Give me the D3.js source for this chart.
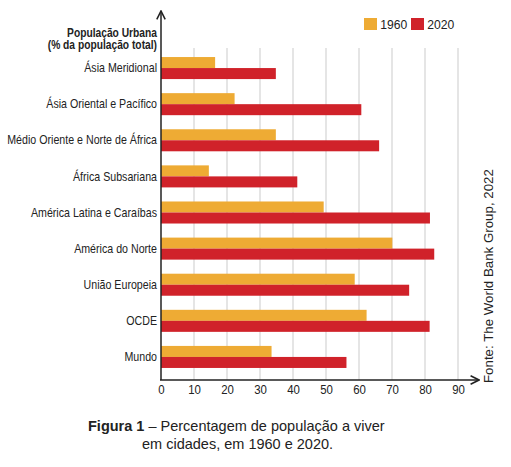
<!DOCTYPE html>
<html>
<head>
<meta charset="utf-8">
<script src="https://cdn.jsdelivr.net/npm/d3@7"></script>
<style>
  body { margin: 0; background: #fff; }
  svg text { font-family: 'Liberation Sans', Arial, sans-serif; fill: #222; }
</style>
</head>
<body>
<script>
const categories = ['Ásia Meridional', 'Ásia Oriental e Pacífico', 'Médio Oriente e Norte de África',
  'África Subsariana', 'América Latina e Caraíbas', 'América do Norte', 'União Europeia', 'OCDE', 'Mundo'];
const years = ['1960', '2020'];
const values1960 = [16.4, 22.3, 34.8, 14.5, 49.3, 70.1, 58.7, 62.3, 33.5];
const values2020 = [34.8, 60.7, 66.1, 41.3, 81.5, 82.8, 75.2, 81.4, 56.2];
const xTicks = [0, 10, 20, 30, 40, 50, 60, 70, 80, 90];

const colors = { '1960': '#eeab34', '2020': '#d0222a' };
// the original uses a condensed face; squeeze regular text horizontally
const narrow = 0.82;

const svg = d3.select('body')
  .append('svg')
  .attr('width', 511)
  .attr('height', 467);

const xScale = d3.scaleLinear()
  .domain([0, 90])
  .range([161, 458]);

const yScale = d3.scaleBand()
  .domain(categories)
  .range([50, 375])
  .paddingInner(0.39)
  .paddingOuter(0.195);

const yInner = d3.scaleBand()
  .domain(years)
  .range([0, yScale.bandwidth()]);

// gridlines
svg.append('g')
  .selectAll('line')
  .data(xTicks.slice(1))
  .enter()
  .append('line')
  .attr('x1', d => xScale(d))
  .attr('x2', d => xScale(d))
  .attr('y1', 48)
  .attr('y2', 380)
  .attr('stroke', '#d4d4d4')
  .attr('stroke-width', 1.2);

const rows = categories.map((c, i) => ({ cat: c, v: { '1960': values1960[i], '2020': values2020[i] } }));

const groups = svg.append('g')
  .selectAll('g')
  .data(rows)
  .enter()
  .append('g')
  .attr('transform', d => `translate(0,${yScale(d.cat)})`);

groups.selectAll('rect')
  .data(d => years.map(y => ({ year: y, value: d.v[y] })))
  .enter()
  .append('rect')
  .attr('x', xScale(0))
  .attr('y', d => yInner(d.year))
  .attr('width', d => xScale(d.value) - xScale(0))
  .attr('height', yInner.bandwidth())
  .attr('fill', d => colors[d.year]);

// x axis
const xAxis = svg.append('g')
  .attr('transform', 'translate(0,380)')
  .call(d3.axisBottom(xScale).tickValues(xTicks).tickSize(0).tickPadding(5));
xAxis.select('.domain').remove();
xAxis.selectAll('text')
  .style('font-size', '13px')
  .style('font-family', "'Liberation Sans', Arial, sans-serif")
  .attr('transform', `scale(${narrow + 0.06},1)`)
  .attr('fill', '#333');

// y axis labels
const yAxis = svg.append('g')
  .attr('transform', 'translate(161,0)')
  .call(d3.axisLeft(yScale).tickSize(0).tickPadding(4));
yAxis.select('.domain').remove();
yAxis.selectAll('text')
  .style('font-size', '13px')
  .style('font-family', "'Liberation Sans', Arial, sans-serif")
  .attr('x', -4 / narrow)
  .attr('transform', `scale(${narrow},1)`)
  .attr('fill', '#222');

// axis lines with arrows
svg.append('defs').append('marker')
  .attr('id', 'arrow')
  .attr('viewBox', '0 0 10 10')
  .attr('refX', 9)
  .attr('refY', 5)
  .attr('markerWidth', 7)
  .attr('markerHeight', 7)
  .attr('orient', 'auto')
  .append('path')
  .attr('d', 'M1,1 L9,5 L1,9')
  .attr('fill', 'none')
  .attr('stroke', '#222')
  .attr('stroke-width', 1.5);

svg.append('line')
  .attr('x1', 161).attr('y1', 380)
  .attr('x2', 161).attr('y2', 11)
  .attr('stroke', '#222').attr('stroke-width', 1.5)
  .attr('marker-end', 'url(#arrow)');

svg.append('line')
  .attr('x1', 160).attr('y1', 380)
  .attr('x2', 479).attr('y2', 380)
  .attr('stroke', '#222').attr('stroke-width', 1.5)
  .attr('marker-end', 'url(#arrow)');

// axis title
const titleLines = ['População Urbana', '(% da população total)'];
svg.append('g')
  .attr('transform', `translate(157,0) scale(${narrow},1)`)
  .selectAll('text')
  .data(titleLines)
  .enter()
  .append('text')
  .attr('x', 0)
  .attr('y', (d, i) => 37 + i * 12.5)
  .attr('text-anchor', 'end')
  .style('font-size', '12.5px')
  .style('font-weight', 'bold')
  .attr('fill', '#111')
  .text(d => d);

// legend
const legend = svg.append('g')
  .selectAll('g')
  .data(years)
  .enter()
  .append('g')
  .attr('transform', (d, i) => `translate(${364 + i * 47},18)`);
legend.append('rect')
  .attr('width', 13)
  .attr('height', 12)
  .attr('fill', d => colors[d]);
legend.append('text')
  .attr('x', 16)
  .attr('y', 11)
  .attr('transform', `scale(0.9,1)`)
  .attr('dx', 2)
  .style('font-size', '13.5px')
  .text(d => d);

// source
svg.append('text')
  .attr('transform', 'translate(493,383) rotate(-90)')
  .style('font-size', '13.3px')
  .attr('fill', '#333')
  .text('Fonte: The World Bank Group, 2022');

// caption
const cap = svg.append('text')
  .attr('x', 88)
  .attr('y', 431)
  .style('font-size', '14.5px')
  .attr('fill', '#333');
cap.append('tspan').style('font-weight', 'bold').text('Figura 1');
cap.append('tspan').text(' – Percentagem de população a viver');
svg.append('text')
  .attr('x', 142)
  .attr('y', 449)
  .style('font-size', '14.5px')
  .attr('fill', '#333')
  .text('em cidades, em 1960 e 2020.');
</script>
</body>
</html>
